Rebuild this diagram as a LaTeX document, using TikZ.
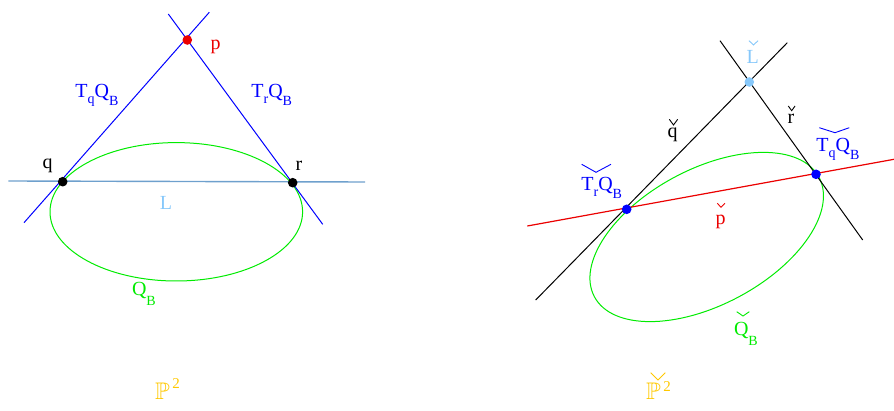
\documentclass[tikz,border=0pt]{standalone}
\usepackage{fontspec}
\usepackage{amssymb}
\setmainfont{Liberation Serif}
\definecolor{fblue}{RGB}{0,0,255}
\definecolor{fred}{RGB}{235,0,0}
\definecolor{fgreen}{RGB}{0,235,0}
\definecolor{flight}{RGB}{135,200,250}
\definecolor{fline}{RGB}{110,160,205}
\definecolor{fgold}{RGB}{255,200,0}
\newcommand\lsub[2]{\raisebox{-#1pt}{\fontsize{14}{14}\selectfont #2}}
\newcommand\bbP[1]{{\fontsize{24}{28}\selectfont$\mathbb{P}$}\hspace{2.5pt}\raisebox{#1pt}{\fontsize{15}{15}\selectfont 2}}
\tikzset{
  lbl/.style={inner sep=0pt, font=\fontsize{20}{24}\selectfont},
  dot/.style={circle, inner sep=0pt, minimum size=9.6pt},
  chk/.style={line width=0.9pt},
  thin line/.style={line width=1pt}
}
\begin{document}
\begin{tikzpicture}[x=1pt,y=-1pt]
\useasboundingbox (0,0) rectangle (894,411);

% ---------- left: P^2 ----------
\draw[fgreen, line width=1pt] (176.3,211.8) ellipse [x radius=126.3, y radius=69.2];
\coordinate (tqa) at (24,222.7);
\coordinate (tqb) at (209.3,12.3);
\coordinate (tra) at (168.3,14);
\coordinate (trb) at (322.7,224.3);
\coordinate (La) at (8.3,181);
\coordinate (Lb) at (365,182);
\draw[fblue, thin line] (tqa) -- (tqb);
\draw[fblue, thin line] (tra) -- (trb);
\draw[fline, line width=1.4pt] (La) -- (Lb);
\node[dot, fill=fred] (p) at (187.3,40) {};
\node[dot, fill=black] (q) at (62.7,181.7) {};
\node[dot, fill=black] (r) at (292.7,182.7) {};

\node[lbl, text=fred, anchor=base] (lp) at (215.7,50) {p};
\node[lbl, text=fblue, anchor=base west] (ltq) at (75.2,97.7) {T\lsub{6}{q}Q\lsub{8}{B}};
\node[lbl, text=fblue, anchor=base west] (ltr) at (251.2,97.7) {T\lsub{6}{r}Q\lsub{8}{B}};
\node[lbl, text=black, anchor=base] (lq) at (47.7,169) {q};
\node[lbl, text=black, anchor=base] (lr) at (299,170.7) {r};
\node[lbl, text=flight, anchor=base] (lL) at (166,210) {L};
\node[lbl, text=fgreen, anchor=base west] (lQB) at (131.8,295.5) {Q\lsub{10}{B}};
\node[inner sep=0pt, text=fgold, anchor=base west] (lP) at (155,399.3) {\bbP{11}};

% ---------- right: dual P^2 ----------
\draw[fgreen, line width=1pt, rotate around={28:(706.7,237)}] (706.7,237) ellipse [x radius=127.2, y radius=67.9];
\coordinate (qla) at (535.7,300);
\coordinate (qlb) at (787.3,42.7);
\coordinate (rla) at (720,40.7);
\coordinate (rlb) at (862.7,240);
\coordinate (pla) at (527.3,226);
\coordinate (plb) at (894,159.3);
\draw[black, thin line] (qla) -- (qlb);
\draw[black, thin line] (rla) -- (rlb);
\draw[fred, line width=1.2pt] (pla) -- (plb);
\node[dot, fill=flight] (Lc) at (749.3,82) {};
\node[dot, fill=fblue] (tr) at (626.7,209.3) {};
\node[dot, fill=fblue] (tq) at (816,174.3) {};

\node[lbl, text=flight, anchor=base] (lLc) at (752.8,63.3) {L};
\draw[chk, flight] (749,40.7) -- (753.5,45) -- (758,40.7);
\node[lbl, text=black, anchor=base] (lrc) at (791,124) {r};
\draw[chk, black] (788.3,106) -- (791.7,110.7) -- (795,106);
\node[lbl, text=black, anchor=base] (lqc) at (672.5,137.7) {q};
\draw[chk, black] (669.3,119.3) -- (673.5,125) -- (677.7,119.3);
\node[lbl, text=fblue, anchor=base west] (ltqc) at (816.2,151.7) {T\lsub{6}{q}Q\lsub{8}{B}};
\draw[chk, fblue] (819.3,127.7) -- (835,132.7) -- (849.3,127.7);
\node[lbl, text=fblue, anchor=base west] (ltrc) at (581.2,191) {T\lsub{6}{r}Q\lsub{8}{B}};
\draw[chk, fblue] (581.7,164.3) -- (596,172.3) -- (611,164.3);
\node[lbl, text=fred, anchor=base] (lpc) at (720.5,225) {p};
\draw[chk, fred] (717.3,203.3) -- (721,207.3) -- (725,203.3);
\node[lbl, text=fgreen, anchor=base west] (lQBc) at (733.8,336) {Q\lsub{10}{B}};
\draw[chk, fgreen] (736.7,311.7) -- (743,316) -- (749.3,311.7);
\node[inner sep=0pt, text=fgold, anchor=base west] (lPc) at (646,399.3) {\bbP{8}};
\draw[chk, fgold] (650.7,372.7) -- (658,380) -- (665.3,372.7);
\end{tikzpicture}
\end{document}
